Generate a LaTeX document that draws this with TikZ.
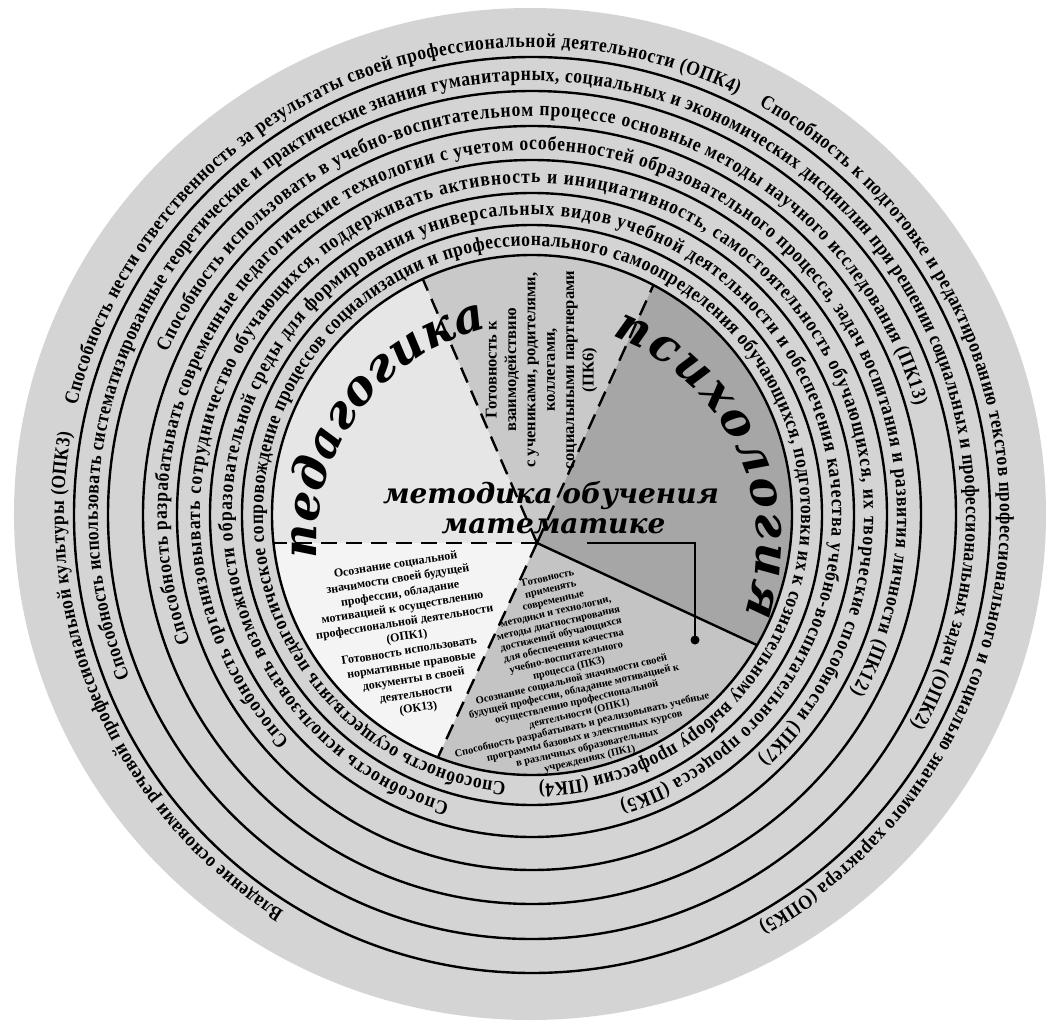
\documentclass[tikz,border=0pt]{standalone}
\usepackage{fontspec}
\setmainfont{Liberation Serif}
\newfontfamily\djv{DejaVu Serif}
\newfontfamily\ringfam{Liberation Serif}[FakeStretch=0.88]
\usetikzlibrary{decorations.text}
\definecolor{ringgrey}{HTML}{D4D4D4}
\definecolor{pedA}{HTML}{E6E6E6}
\definecolor{pedB}{HTML}{F4F4F4}
\definecolor{wedgeG}{HTML}{C9C9C9}
\definecolor{psyG}{HTML}{A6A6A6}
\definecolor{botG}{HTML}{C4C4C4}
\newcommand\rf{\ringfam\bfseries\fontsize{20}{24}\selectfont}
\newcommand\bw{\djv\bfseries\itshape\fontsize{47}{52}\selectfont}
\begin{document}
\begin{tikzpicture}[x=1pt,y=1pt,
  ringline/.style={line width=2.4pt},
  dashline/.style={line width=2.4pt, dash pattern=on 16pt off 9pt},
  ringtext/.style={decorate, decoration={text along path, text align=fit to path, text={|\rf|#1}}},
  bigword/.style={decorate, decoration={text along path, text align=fit to path, text={|\bw|#1}}},
  blocktext/.style={align=center, inner sep=0pt},
  titletext/.style={font=\djv\bfseries\itshape\fontsize{28}{32}\selectfont, inner sep=0pt, anchor=base},
  dot/.style={circle, fill=black, minimum size=9pt, inner sep=0pt}]
\useasboundingbox (-532,-508) rectangle (514,515);
\clip (-532,-508) rectangle (514,515);
\coordinate (C) at (0,0);
\coordinate (V) at (5,-28);
% outer disc
\fill[ringgrey] (-2,1) ellipse [x radius=516, y radius=506];
% pie sectors
\begin{scope}
\clip (C) circle[radius=260];
\fill[pedA] (V) -- ([shift={(113.4:700)}]V) -- ([shift={(146.7:1000)}]V) -- ([shift={(180:700)}]V) -- cycle;
\fill[pedB] (V) -- ([shift={(180:700)}]V) -- ([shift={(212.6:1000)}]V) -- ([shift={(245.2:700)}]V) -- cycle;
\fill[wedgeG] (V) -- ([shift={(65.7:700)}]V) -- ([shift={(89.55:1000)}]V) -- ([shift={(113.4:700)}]V) -- cycle;
\fill[psyG] (V) -- ([shift={(-24.9:700)}]V) -- ([shift={(20.4:1000)}]V) -- ([shift={(65.7:700)}]V) -- cycle;
\fill[botG] (V) -- ([shift={(245.2:700)}]V) -- ([shift={(290.15:1000)}]V) -- ([shift={(335.1:700)}]V) -- cycle;
\end{scope}
% ring lines
\foreach \r in {290,322,355,389,424,458} {\draw[ringline] (C) circle[radius=\r];}
\draw[ringline] (C) circle[radius=260];
% dividers
\path (V) ++(113.4:287.6) coordinate (e1);
\path (V) ++(65.7:283) coordinate (e2);
\path (V) ++(-24.9:242.6) coordinate (e3);
\path (V) ++(245.2:236.2) coordinate (e4);
\path (V) ++(180:263.5) coordinate (e5);
\draw[dashline] (V) -- (e1);
\draw[dashline] (V) -- (e2);
\draw[dashline] (V) -- (e4);
\draw[dashline] (V) -- (e5);
\draw[ringline] (V) -- (e3);
% ring texts
\path[ringtext={Владение основами речевой профессиональной культуры (ОПК3)}] (238:468) arc[start angle=238, end angle=170, radius=468];
\path[ringtext={Способность нести ответственность за результаты своей профессиональной деятельности (ОПК4)}] (166.5:468) arc[start angle=166.5, end angle=64, radius=468];
\path[ringtext={Способность к подготовке и редактированию текстов профессионального и социально значимого характера (ОПК5)}] (61:468) arc[start angle=61, end angle=-61, radius=468];
\path[ringtext={Способность использовать систематизированные теоретические и практические знания гуманитарных, социальных и экономических дисциплин при решении социальных и профессиональных задач (ОПК2)}] (202:434) arc[start angle=202, end angle=-29, radius=434];
\path[ringtext={Способность использовать в учебно-воспитательном процессе основные методы научного исследования (ПК13)}] (156:399) arc[start angle=156, end angle=16, radius=399];
\path[ringtext={Способность разрабатывать современные педагогические технологии с учетом особенностей образовательного процесса, задач воспитания и развития личности (ПК12)}] (200.5:365) arc[start angle=200.5, end angle=-29, radius=365];
\path[ringtext={Способность организовывать сотрудничество обучающихся, поддерживать активность и инициативность, самостоятельность обучающихся, их творческие способности (ПК7)}] (223:332) arc[start angle=223, end angle=-47, radius=332];
\path[ringtext={Способность использовать возможности образовательной среды для формирования универсальных видов учебной деятельности и обеспечения качества учебно-воспитательного процесса (ПК5)}] (254:300) arc[start angle=254, end angle=-73, radius=300];
\path[ringtext={Способность осуществлять педагогическое сопровождение процессов социализации и профессионального самоопределения обучающихся, подготовки их к сознательному выбору профессии (ПК4)}] (264.5:269) arc[start angle=264.5, end angle=-88.5, radius=269];
% big words
\path[bigword={педагогика}] ([shift={(184:220)}]V) arc[start angle=184, end angle=103, radius=220];
\path[bigword={психология}] ([shift={(70:220)}]V) arc[start angle=70, end angle=-19, radius=220];
% blocks
\node[blocktext, font=\bfseries\fontsize{16.5}{19.4}\selectfont, rotate=90] (pk6) at (9.5,145) {Готовность к\\взаимодействию\\с учениками, родителями,\\коллегами,\\социальными партнерами\\(ПК6)};
\node[blocktext, font=\bfseries\fontsize{12}{14.5}\selectfont, rotate=9] (opk1) at (-125,-122) {Осознание социальной\\значимости своей будущей\\профессии, обладание\\мотивацией к осуществлению\\профессиональной деятельности\\(ОПК1)\\Готовность использовать\\нормативные правовые\\документы в своей\\деятельности\\(ОК13)};
\node[blocktext, font=\bfseries\fontsize{10.5}{11.6}\selectfont, rotate=13] (pk3) at (37,-154) {Готовность\\применять\\современные\\методики и технологии,\\методы диагностирования\\достижений обучающихся\\для обеспечения качества\\учебно-воспитательного\\процесса (ПК3)\\Осознание социальной значимости своей\\будущей профессии, обладание мотивацией к\\осуществлению профессиональной\\деятельности (ОПК1)\\Способность разрабатывать и реализовывать учебные\\программы базовых и элективных курсов\\в различных образовательных\\учреждениях (ПК1)};
% title
\node[titletext] (t1) at (19,12) {методика обучения};
\node[titletext] (t2) at (21.5,-18) {математике};
% connector
\coordinate (cs) at (55,-28);
\node[dot] (dt) at (163,-125) {};
\draw[line width=2pt] (cs) -| (dt.center);
\end{tikzpicture}
\end{document}
